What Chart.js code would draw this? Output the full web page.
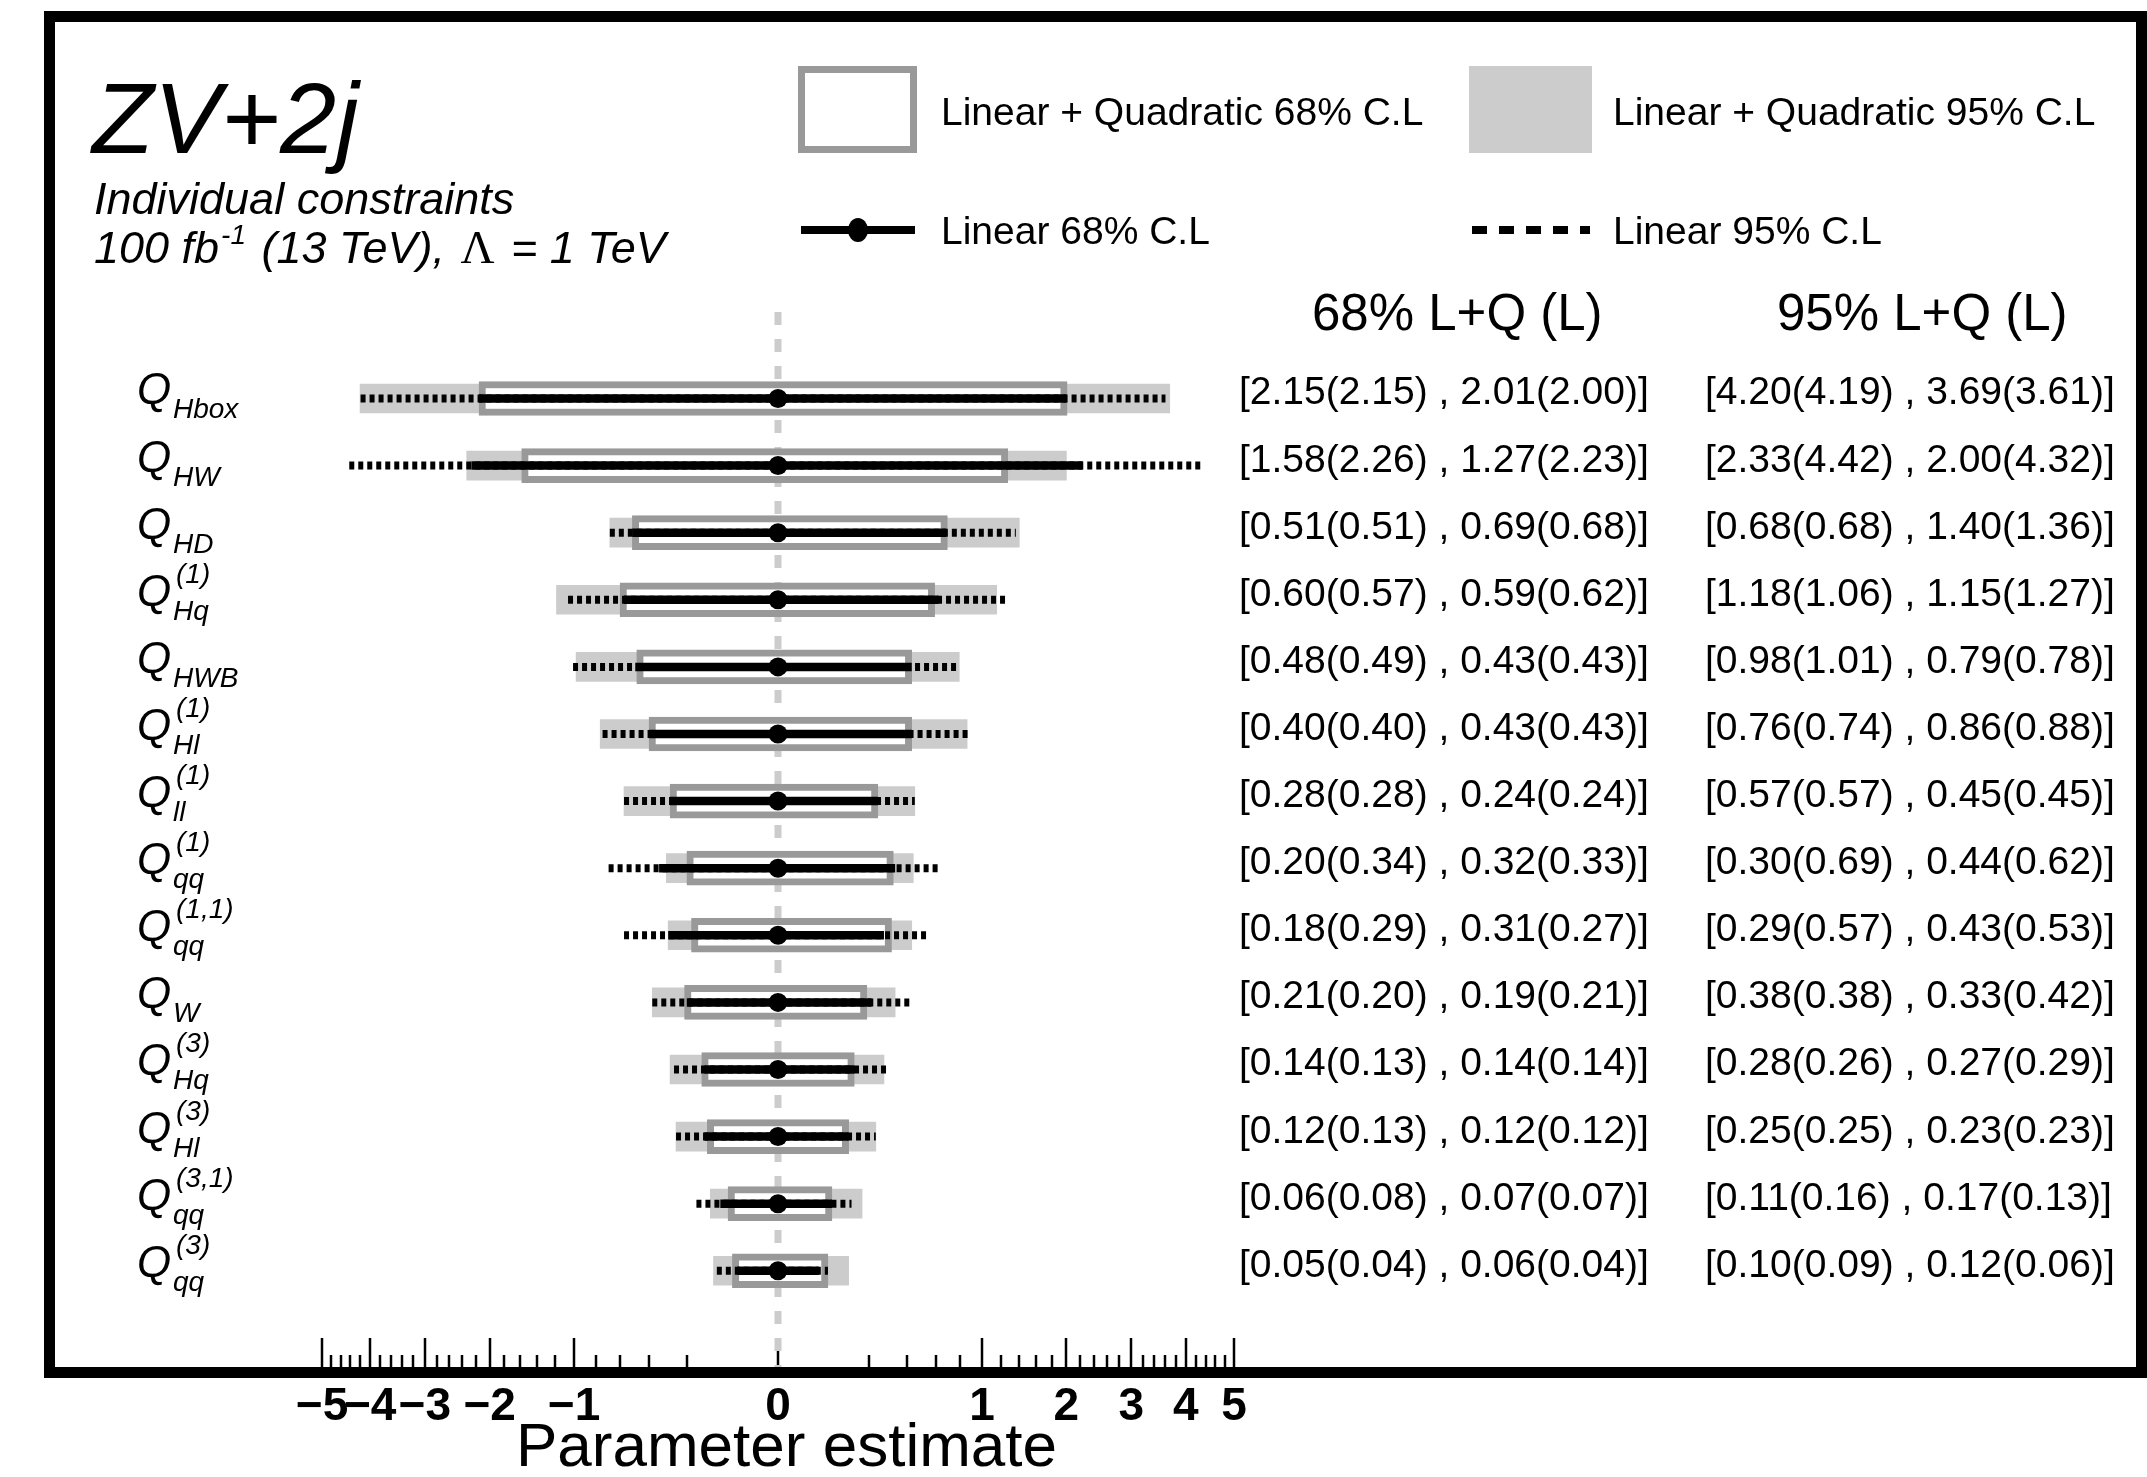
<!DOCTYPE html>
<html>
<head>
<meta charset="utf-8">
<script src="https://cdn.jsdelivr.net/npm/chart.js@4.4.0/dist/chart.umd.min.js"></script>
<style>
  html, body { margin: 0; padding: 0; background: #fff; }
</style>
</head>
<body>
<canvas id="grafico" width="2147" height="1477"></canvas>
<script>
// Operadores: subíndice y superíndice de cada Q
const subindices = ['Hbox', 'HW', 'HD', 'Hq', 'HWB', 'Hl', 'll', 'qq', 'qq', 'W', 'Hq', 'Hl', 'qq', 'qq']
const superindices = ['', '', '', '(1)', '', '(1)', '(1)', '(1)', '(1,1)', '', '(3)', '(3)', '(3,1)', '(3)']

// 68% lineal + cuadrático (lado negativo, lado positivo)
const lq68Inf = [2.15, 1.58, 0.51, 0.60, 0.48, 0.40, 0.28, 0.20, 0.18, 0.21, 0.14, 0.12, 0.06, 0.05]
const lq68Sup = [2.01, 1.27, 0.69, 0.59, 0.43, 0.43, 0.24, 0.32, 0.31, 0.19, 0.14, 0.12, 0.07, 0.06]
// 68% solo lineal
const lin68Inf = [2.15, 2.26, 0.51, 0.57, 0.49, 0.40, 0.28, 0.34, 0.29, 0.20, 0.13, 0.13, 0.08, 0.04]
const lin68Sup = [2.00, 2.23, 0.68, 0.62, 0.43, 0.43, 0.24, 0.33, 0.27, 0.21, 0.14, 0.12, 0.07, 0.04]
// 95% lineal + cuadrático
const lq95Inf = [4.20, 2.33, 0.68, 1.18, 0.98, 0.76, 0.57, 0.30, 0.29, 0.38, 0.28, 0.25, 0.11, 0.10]
const lq95Sup = [3.69, 2.00, 1.40, 1.15, 0.79, 0.86, 0.45, 0.44, 0.43, 0.33, 0.27, 0.23, 0.17, 0.12]
// 95% solo lineal
const lin95Inf = [4.19, 4.42, 0.68, 1.06, 1.01, 0.74, 0.57, 0.69, 0.57, 0.38, 0.26, 0.25, 0.16, 0.09]
const lin95Sup = [3.61, 4.32, 1.36, 1.27, 0.78, 0.88, 0.45, 0.62, 0.53, 0.42, 0.29, 0.23, 0.13, 0.06]

// Eje x
const ticksMayores = [-5, -4, -3, -2, -1, 0, 1, 2, 3, 4, 5]
const divisionesMenores = 5

const FUENTE = '"Liberation Sans", Arial, Helvetica, sans-serif'
const filas = subindices.map((_, i) => i)

// Escala con raíz cuadrada con signo
const raiz = v => Math.sign(v) * Math.sqrt(Math.abs(v))

class EscalaRaiz extends Chart.LinearScale {
    getPixelForValue(valor) {
        const a = raiz(this.min), b = raiz(this.max)
        return this.getPixelForDecimal((raiz(valor) - a) / (b - a))
    }
    getValueForPixel(pixel) {
        const a = raiz(this.min), b = raiz(this.max)
        const t = a + this.getDecimalForPixel(pixel) * (b - a)
        return Math.sign(t) * t * t
    }
}
EscalaRaiz.id = 'raiz'
EscalaRaiz.defaults = Chart.LinearScale.defaults
Chart.register(EscalaRaiz)

// Segmentos horizontales separados por un punto nulo
function segmentos(inf, sup) {
    return filas.flatMap(i => [{ x: -inf[i], y: i }, { x: sup[i], y: i }, { x: null, y: null }])
}

const fmt = v => v.toFixed(2)
const intervalo = (a, la, b, lb) => `[${fmt(a)}(${fmt(la)}) , ${fmt(b)}(${fmt(lb)})]`

function texto(ctx, t, x, y, font, align = 'left') {
    ctx.font = font
    ctx.textAlign = align
    ctx.textBaseline = 'alphabetic'
    ctx.fillStyle = '#000'
    ctx.fillText(t, x, y)
    return ctx.measureText(t).width
}

const decoracion = {
    id: 'decoracion',
    beforeDraw(chart) {
        const ctx = chart.ctx
        ctx.save()
        ctx.fillStyle = '#fff'
        ctx.fillRect(0, 0, chart.width, chart.height)
        ctx.restore()
    },
    beforeDatasetsDraw(chart) {
        const { ctx, chartArea } = chart
        const x = chart.scales.x
        ctx.save()
        // marcas del eje, hacia arriba
        ctx.strokeStyle = '#000'
        ctx.lineWidth = 2.5
        for (let k = ticksMayores[0] * divisionesMenores; k <= ticksMayores[ticksMayores.length - 1] * divisionesMenores; k++) {
            const v = k / divisionesMenores
            const mayor = k % divisionesMenores === 0
            const px = Math.round(x.getPixelForValue(v))
            ctx.beginPath()
            ctx.moveTo(px, chartArea.bottom)
            ctx.lineTo(px, chartArea.bottom - (mayor ? 29 : 12))
            ctx.stroke()
        }
        // línea discontinua en cero
        const x0 = x.getPixelForValue(0)
        ctx.strokeStyle = '#cccccc'
        ctx.lineWidth = 7
        ctx.setLineDash([13, 14])
        ctx.beginPath()
        ctx.moveTo(x0, chartArea.top)
        ctx.lineTo(x0, chartArea.bottom + 6)
        ctx.stroke()
        ctx.restore()
    },
    afterDraw(chart) {
        const { ctx } = chart
        const x = chart.scales.x
        const y = chart.scales.y
        ctx.save()

        // marco
        ctx.strokeStyle = '#000'
        ctx.lineWidth = 11
        ctx.strokeRect(49.5, 16.5, 2092, 1356)

        // títulos
        texto(ctx, 'ZV+2j', 92, 153, `italic 101px ${FUENTE}`)
        texto(ctx, 'Individual constraints', 94, 214, `italic 45px ${FUENTE}`)
        let px = 94
        px += texto(ctx, '100 fb', px, 263, `italic 45px ${FUENTE}`)
        px += texto(ctx, '-1', px + 2, 244, `italic 28px ${FUENTE}`) + 5
        px += texto(ctx, ' (13 TeV), ', px, 263, `italic 45px ${FUENTE}`)
        px += texto(ctx, 'Λ', px + 3, 263, `47px "Liberation Serif", serif`) + 7
        texto(ctx, ' = 1 TeV', px, 263, `italic 45px ${FUENTE}`)

        // leyenda
        ctx.fillStyle = '#cccccc'
        ctx.fillRect(1469, 66, 123, 87)
        ctx.strokeStyle = '#999999'
        ctx.lineWidth = 7
        ctx.strokeRect(801.5, 69.5, 112, 80)
        ctx.strokeStyle = '#000'
        ctx.lineWidth = 8
        ctx.beginPath()
        ctx.moveTo(801, 230)
        ctx.lineTo(915, 230)
        ctx.stroke()
        ctx.fillStyle = '#000'
        ctx.beginPath()
        ctx.ellipse(858, 230, 10, 12, 0, 0, Math.PI * 2)
        ctx.fill()
        ctx.setLineDash([15, 12])
        ctx.beginPath()
        ctx.moveTo(1472, 230)
        ctx.lineTo(1590, 230)
        ctx.stroke()
        ctx.setLineDash([])
        const fLeyenda = `39px ${FUENTE}`
        texto(ctx, 'Linear + Quadratic 68% C.L', 941, 125, fLeyenda)
        texto(ctx, 'Linear + Quadratic 95% C.L', 1613, 125, fLeyenda)
        texto(ctx, 'Linear 68% C.L', 941, 244, fLeyenda)
        texto(ctx, 'Linear 95% C.L', 1613, 244, fLeyenda)

        // cabeceras de las columnas
        texto(ctx, '68% L+Q (L)', 1312, 330, `51px ${FUENTE}`)
        texto(ctx, '95% L+Q (L)', 1777, 330, `51px ${FUENTE}`)

        // filas: nombre del operador e intervalos
        filas.forEach(i => {
            const py = y.getPixelForValue(i)
            texto(ctx, 'Q', 137, py + 6, `italic 44px ${FUENTE}`)
            texto(ctx, subindices[i], 173, py + 20, `italic 28px ${FUENTE}`)
            if (superindices[i]) texto(ctx, superindices[i], 176, py - 17, `italic 28px ${FUENTE}`)
            texto(ctx, intervalo(lq68Inf[i], lin68Inf[i], lq68Sup[i], lin68Sup[i]), 1239, py + 6, fLeyenda)
            texto(ctx, intervalo(lq95Inf[i], lin95Inf[i], lq95Sup[i], lin95Sup[i]), 1705, py + 6, fLeyenda)
        })

        // etiquetas y título del eje x
        ticksMayores.forEach(v => {
            const etiqueta = v < 0 ? '\u2212' + Math.abs(v) : String(v)
            texto(ctx, etiqueta, x.getPixelForValue(v), 1420, `bold 46px ${FUENTE}`, 'center')
        })
        texto(ctx, 'Parameter estimate', 516, 1466, `62px ${FUENTE}`)

        ctx.restore()
    }
}

new Chart(document.querySelector('#grafico'), {
    type: 'bar',
    data: {
        datasets: [
            {
                type: 'bar',
                label: 'Linear + Quadratic 95% C.L',
                indexAxis: 'y',
                data: filas.map(i => ({ x: [-lq95Inf[i], lq95Sup[i]], y: i })),
                backgroundColor: '#cccccc',
                borderWidth: 0,
                barThickness: 29,
                grouped: false,
                order: 5
            },
            {
                type: 'bar',
                label: 'Linear + Quadratic 68% C.L',
                indexAxis: 'y',
                data: filas.map(i => ({ x: [-lq68Inf[i], lq68Sup[i]], y: i })),
                backgroundColor: '#ffffff',
                borderColor: '#999999',
                borderWidth: 7,
                borderSkipped: false,
                barThickness: 34,
                grouped: false,
                order: 4
            },
            {
                type: 'line',
                label: 'Linear 95% C.L',
                data: segmentos(lin95Inf, lin95Sup),
                borderColor: '#000',
                borderWidth: 8,
                borderDash: [5, 4],
                borderCapStyle: 'butt',
                pointRadius: 0,
                spanGaps: false,
                order: 3
            },
            {
                type: 'line',
                label: 'Linear 68% C.L',
                data: segmentos(lin68Inf, lin68Sup),
                borderColor: '#000',
                borderWidth: 8.5,
                borderCapStyle: 'butt',
                pointRadius: 0,
                spanGaps: false,
                order: 2
            },
            {
                type: 'scatter',
                label: 'Central',
                data: filas.map(i => ({ x: 0, y: i })),
                backgroundColor: '#000',
                borderWidth: 0,
                pointRadius: 9.5,
                order: 1
            }
        ]
    },
    options: {
        responsive: false,
        animation: false,
        events: [],
        layout: { padding: { left: 322, right: 913, top: 312, bottom: 110 } },
        scales: {
            x: { type: 'raiz', min: -5, max: 5, display: false },
            y: { type: 'linear', reverse: true, offset: false, min: -1.289, max: 14.434, display: false }
        },
        plugins: {
            legend: { display: false },
            tooltip: { enabled: false }
        }
    },
    plugins: [decoracion]
})
</script>
</body>
</html>
